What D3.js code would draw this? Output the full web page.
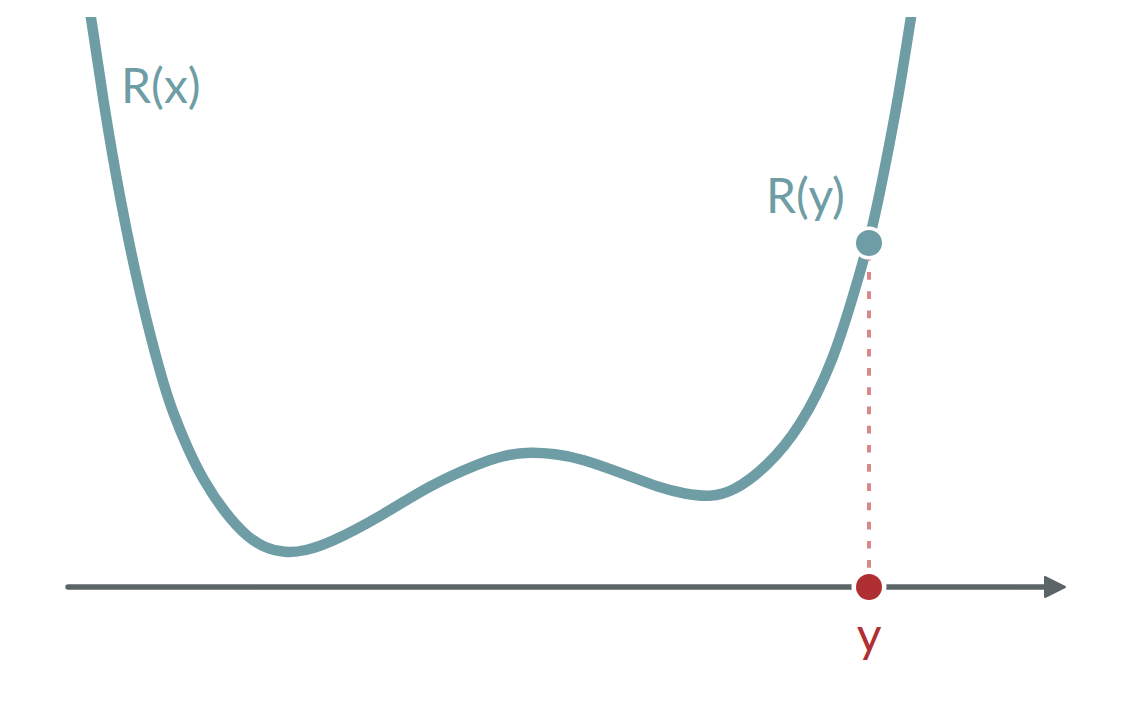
<!DOCTYPE html>
<html>
<head>
<meta charset="utf-8">
<script src="https://cdn.jsdelivr.net/npm/d3@7"></script>
<style>
  html, body { margin: 0; padding: 0; background: #fff; }
  svg { display: block; }
  text { font-family: Lato, "Open Sans", sans-serif; }
</style>
</head>
<body>
<svg id="chart" width="1128" height="705"></svg>
<script>
// ---- data ----
const curveX = [0.38, 0.46, 0.70, 1.04, 1.46, 1.88, 2.10, 2.38, 2.70, 3.14, 3.58, 3.94, 4.34, 4.74, 5.24, 6.24, 7.24, 8.24, 8.74, 9.24, 9.74, 10.24, 11.18, 11.84, 12.34, 12.84, 13.30, 13.98, 14.64, 15.30, 15.78, 16.10, 16.34, 16.60, 16.86, 16.94];
const curveY = [11.90, 11.40, 9.74, 7.74, 5.74, 4.14, 3.48, 2.80, 2.14, 1.48, 1.00, 0.78, 0.68, 0.72, 0.88, 1.40, 2.04, 2.48, 2.64, 2.70, 2.66, 2.58, 2.24, 1.98, 1.86, 1.80, 1.90, 2.40, 3.18, 4.48, 6.08, 7.20, 8.40, 9.74, 11.40, 11.90];
const pointX = [16.02];
const pointY = [6.88];
const axisExtent = [0, 19.94];
const labels = ["R(x)", "R(y)", "y"];

// ---- scales ----
const x = d3.scaleLinear().domain([0, 20]).range([68, 1068]);
const y = d3.scaleLinear().domain([0, 11.5]).range([587, 12]);

const svg = d3.select("#chart");
const teal = "#6e9da5", axisCol = "#5b6467", red = "#b02f33", pink = "#d98889";

svg.append("clipPath").attr("id", "clip")
  .append("rect").attr("x", 0).attr("y", 17).attr("width", 1128).attr("height", 700);

// axis line with arrow
svg.append("line")
  .attr("x1", x(axisExtent[0])).attr("x2", x(axisExtent[1]) - 12)
  .attr("y1", y(0)).attr("y2", y(0))
  .attr("stroke", axisCol).attr("stroke-width", 5.5).attr("stroke-linecap", "round");
const tip = x(axisExtent[1]);
svg.append("path")
  .attr("d", `M${tip},${y(0)} L${tip - 20},${y(0) - 10} L${tip - 20},${y(0) + 10} Z`)
  .attr("fill", axisCol).attr("stroke", axisCol).attr("stroke-width", 2).attr("stroke-linejoin", "round");

// curve
const pts = curveX.map((d, i) => [d, curveY[i]]);
const line = d3.line().x(d => x(d[0])).y(d => y(d[1])).curve(d3.curveBasis);
svg.append("path")
  .datum(pts)
  .attr("clip-path", "url(#clip)")
  .attr("d", line)
  .attr("fill", "none").attr("stroke", teal).attr("stroke-width", 10.5);

// dashed drop line
svg.append("line")
  .attr("x1", x(pointX[0])).attr("x2", x(pointX[0]))
  .attr("y1", y(0)).attr("y2", y(pointY[0]))
  .attr("stroke", pink).attr("stroke-width", 4).attr("stroke-dasharray", "7.7,11.5");

// points
svg.append("circle").attr("cx", x(pointX[0])).attr("cy", y(pointY[0])).attr("r", 13)
  .attr("fill", teal).attr("stroke", "#fff").attr("stroke-width", 7).attr("paint-order", "stroke");
svg.append("circle").attr("cx", x(pointX[0])).attr("cy", y(0)).attr("r", 13)
  .attr("fill", red).attr("stroke", "#fff").attr("stroke-width", 9).attr("paint-order", "stroke");

// labels
svg.append("text").attr("x", 121).attr("y", 103).attr("font-size", 48).attr("fill", teal).text(labels[0]);
svg.append("text").attr("x", 766).attr("y", 213).attr("font-size", 48).attr("fill", teal).text(labels[1]);
svg.append("text").attr("x", x(pointX[0])).attr("y", 652).attr("font-size", 48).attr("fill", red)
  .attr("text-anchor", "middle").text(labels[2]);
</script>
</body>
</html>
